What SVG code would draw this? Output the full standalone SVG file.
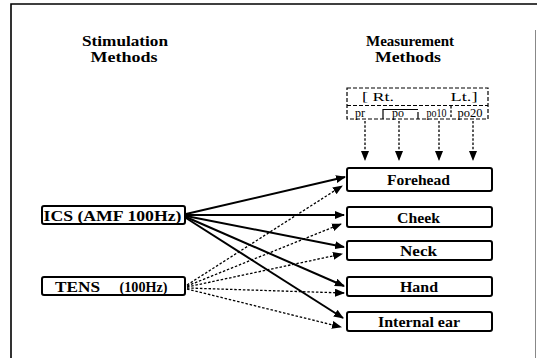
<svg xmlns="http://www.w3.org/2000/svg" width="537" height="358" viewBox="0 0 537 358">
<defs>
<marker id="ah" viewBox="0 0 10 8" refX="9" refY="4" markerWidth="10" markerHeight="8" markerUnits="userSpaceOnUse" orient="auto">
<path d="M0,0 L10,4 L0,8 Z" fill="#000"/>
</marker>
<style>
.t{font-family:"Liberation Serif","Times New Roman",serif;font-weight:bold;fill:#000;text-anchor:middle}
.title{font-size:14px}
.lbl{font-size:15px}
.hd{font-size:13px;font-weight:normal}
.hs{font-size:12px;font-weight:normal}
.box{fill:#fff;stroke:#000;stroke-width:2;rx:2}
.solid{stroke:#000;stroke-width:2;fill:none}
.dot{stroke:#000;stroke-width:1.3;stroke-dasharray:2.5 1.8;fill:none}
.dash{stroke:#000;stroke-width:1.2;stroke-dasharray:4 2;fill:none}
</style>
</defs>
<rect width="537" height="358" fill="#fff"/>
<g id="frame">
<path d="M11,358 L11,4 L537,4" fill="none" stroke="#000" stroke-width="1.6"/>
<path d="M535.5,30 L535.5,358" fill="none" stroke="#888" stroke-width="1"/>
</g>
<g id="titles">
<text class="t title" x="125" y="46" textLength="86" lengthAdjust="spacingAndGlyphs">Stimulation</text>
<text class="t title" x="124" y="62" textLength="67" lengthAdjust="spacingAndGlyphs">Methods</text>
<text class="t title" x="410" y="46" textLength="88" lengthAdjust="spacingAndGlyphs">Measurement</text>
<text class="t title" x="408" y="62" textLength="66" lengthAdjust="spacingAndGlyphs">Methods</text>
</g>
<g id="header">
<rect class="dash" x="347" y="88" width="141" height="31"/>
<line class="dash" x1="347" y1="105.5" x2="488" y2="105.5"/>
<path d="M383,119 L383,109.5 L418,109.5 M418,112 L418,119" fill="none" stroke="#000" stroke-width="1.2"/>
<line class="dot" x1="451" y1="106" x2="451" y2="119" stroke-width="1"/>
<text class="t hd" x="378" y="101" textLength="32" lengthAdjust="spacingAndGlyphs">[ Rt.</text>
<text class="t hd" x="464" y="101" textLength="27" lengthAdjust="spacingAndGlyphs">Lt.]</text>
<text class="t hs" x="360" y="117">pr</text>
<text class="t hs" x="398" y="117">po</text>
<text class="t hs" x="436.5" y="117" textLength="20" lengthAdjust="spacingAndGlyphs">po10</text>
<text class="t hs" x="470" y="117" textLength="25" lengthAdjust="spacingAndGlyphs">po20</text>
</g>
<g id="n-ics">
<rect class="box" x="42" y="206" width="143" height="18"/>
<text class="t lbl" x="112.5" y="220.5" textLength="138" lengthAdjust="spacingAndGlyphs">ICS (AMF 100Hz)</text>
</g>
<g id="n-tens">
<rect class="box" x="42" y="277" width="143" height="18"/>
<text class="t lbl" x="77.5" y="291.5" textLength="45" lengthAdjust="spacingAndGlyphs">TENS</text>
<text class="t lbl" x="143.5" y="291.5" textLength="48" lengthAdjust="spacingAndGlyphs">(100Hz)</text>
</g>
<g id="n-forehead">
<rect class="box" x="347" y="168" width="145" height="23"/>
<text class="t lbl" x="418.5" y="185" textLength="63" lengthAdjust="spacingAndGlyphs">Forehead</text>
</g>
<g id="n-cheek">
<rect class="box" x="347" y="207" width="145" height="20"/>
<text class="t lbl" x="418.5" y="222.5" textLength="43" lengthAdjust="spacingAndGlyphs">Cheek</text>
</g>
<g id="n-neck">
<rect class="box" x="347" y="241" width="145" height="19"/>
<text class="t lbl" x="418.5" y="256" textLength="37" lengthAdjust="spacingAndGlyphs">Neck</text>
</g>
<g id="n-hand">
<rect class="box" x="347" y="277" width="145" height="19"/>
<text class="t lbl" x="419" y="292" textLength="38" lengthAdjust="spacingAndGlyphs">Hand</text>
</g>
<g id="n-internal-ear">
<rect class="box" x="347" y="312" width="145" height="19"/>
<text class="t lbl" x="419" y="327" textLength="82" lengthAdjust="spacingAndGlyphs">Internal ear</text>
</g>
<g id="connectors">
<line class="dot" x1="365" y1="121" x2="365" y2="160" marker-end="url(#ah)"/>
<line class="dot" x1="399" y1="121" x2="399" y2="160" marker-end="url(#ah)"/>
<line class="dot" x1="439" y1="121" x2="439" y2="160" marker-end="url(#ah)"/>
<line class="dot" x1="473" y1="121" x2="473" y2="160" marker-end="url(#ah)"/>
<line class="solid" x1="186" y1="214" x2="345" y2="177" marker-end="url(#ah)"/>
<line class="solid" x1="186" y1="215" x2="344" y2="215" marker-end="url(#ah)"/>
<line class="solid" x1="186" y1="216" x2="344" y2="247" marker-end="url(#ah)"/>
<line class="solid" x1="186" y1="217" x2="344" y2="286" marker-end="url(#ah)"/>
<line class="solid" x1="186" y1="218" x2="343" y2="318" marker-end="url(#ah)"/>
<line class="dot" x1="187" y1="285" x2="342" y2="186" marker-end="url(#ah)"/>
<line class="dot" x1="187" y1="286" x2="341" y2="224" marker-end="url(#ah)"/>
<line class="dot" x1="187" y1="287" x2="342" y2="254" marker-end="url(#ah)"/>
<line class="dot" x1="187" y1="288" x2="344" y2="293" marker-end="url(#ah)"/>
<line class="dot" x1="187" y1="289" x2="341" y2="327" marker-end="url(#ah)"/>
</g>
</svg>
